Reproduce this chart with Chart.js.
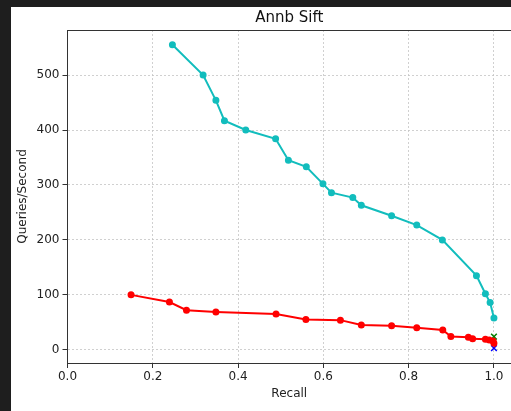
<!DOCTYPE html>
<html>
<head>
<meta charset="utf-8">
<script src="https://cdn.jsdelivr.net/npm/chart.js@4/dist/chart.umd.min.js"></script>
<style>
  html, body { margin: 0; padding: 0; background: #1e1e1e; }
  #wrap { position: absolute; left: 11px; top: 7px; width: 500px; height: 404px; background: #fff; }
  canvas { display: block; }
</style>
</head>
<body>
<div id="wrap"><canvas id="chart" width="500" height="404"></canvas></div>
<script>
// Recall / throughput curves
const cyanRecall = [0.246, 0.318, 0.348, 0.368, 0.418, 0.488, 0.518, 0.560, 0.599, 0.619, 0.669, 0.689, 0.760, 0.819, 0.879, 0.959, 0.980, 0.991, 1.0];
const cyanQps    = [555, 500, 454, 417, 400, 384, 345, 333, 302, 286, 277, 263, 244, 227, 200, 135, 102, 86, 58];

const redRecall = [0.149, 0.239, 0.279, 0.348, 0.489, 0.559, 0.640, 0.689, 0.760, 0.819, 0.880, 0.899, 0.940, 0.950, 0.980, 0.989, 0.998, 1.0];
const redQps    = [100, 87, 72, 69, 65, 55, 54, 45, 44, 40, 36, 24, 23, 20, 19, 18, 16, 12];

// single-point runs at full recall
const greenPoint = [1.0, 24];
const bluePoint  = [1.0, 3];

const xTicks = [0.0, 0.2, 0.4, 0.6, 0.8, 1.0];
const yTicks = [0, 100, 200, 300, 400, 500];

const FONT = "'DejaVu Sans', sans-serif";

function toPoints(xs, ys) {
    return xs.map((x, i) => ({ x: x, y: ys[i] }));
}

// matplotlib-style closed top spine
const topSpine = {
    id: 'topSpine',
    afterDraw(chart) {
        const { ctx, chartArea } = chart;
        ctx.save();
        ctx.strokeStyle = '#333';
        ctx.lineWidth = 1;
        ctx.beginPath();
        ctx.moveTo(chartArea.left, chartArea.top + 0.5);
        ctx.lineTo(chartArea.right, chartArea.top + 0.5);
        ctx.stroke();
        ctx.restore();
    }
};

const axisGrid = {
    color: '#c4c4c4',
    lineWidth: 0.8,
    tickColor: '#333',
    tickWidth: 1,
    tickLength: 5,
    tickBorderDash: []
};

new Chart(document.getElementById('chart'), {
    type: 'scatter',
    data: {
        datasets: [
            {
                data: toPoints(cyanRecall, cyanQps),
                showLine: true,
                borderColor: '#12bdbd',
                backgroundColor: '#12bdbd',
                borderWidth: 2,
                pointRadius: 2.5,
                pointHoverRadius: 2.5,
                tension: 0
            },
            {
                data: toPoints(redRecall, redQps),
                showLine: true,
                borderColor: '#ff0000',
                backgroundColor: '#ff0000',
                borderWidth: 2,
                pointRadius: 2.5,
                pointHoverRadius: 2.5,
                tension: 0
            },
            {
                data: [{ x: greenPoint[0], y: greenPoint[1] }],
                pointStyle: 'crossRot',
                borderColor: '#008000',
                borderWidth: 1.5,
                pointRadius: 4
            },
            {
                data: [{ x: bluePoint[0], y: bluePoint[1] }],
                pointStyle: 'crossRot',
                borderColor: '#0000ff',
                borderWidth: 1.5,
                pointRadius: 4
            }
        ]
    },
    options: {
        responsive: false,
        animation: false,
        layout: { padding: 0, autoPadding: false },
        plugins: {
            legend: { display: false },
            tooltip: { enabled: false },
            title: {
                display: true,
                text: 'Annb Sift',
                fullSize: false,
                color: '#111',
                font: { family: FONT, size: 15, weight: 'normal' },
                padding: { top: 2, bottom: 3 }
            }
        },
        scales: {
            x: {
                type: 'linear',
                min: 0,
                max: 1.04,
                afterBuildTicks: (scale) => { scale.ticks = xTicks.map(v => ({ value: v })); },
                afterFit: (scale) => {
                    scale.height = 48;
                    scale.paddingLeft = 0;
                    scale.paddingRight = 0;
                },
                grid: axisGrid,
                border: { display: true, color: '#333', width: 1, dash: [2, 2] },
                ticks: {
                    color: '#222',
                    padding: 2,
                    maxRotation: 0,
                    font: { family: FONT, size: 12 },
                    callback: (v) => Number(v).toFixed(1)
                },
                title: {
                    display: true,
                    text: 'Recall',
                    color: '#222',
                    font: { family: FONT, size: 12 },
                    padding: { top: 0, bottom: 10 }
                }
            },
            y: {
                type: 'linear',
                min: -24,
                max: 582,
                afterBuildTicks: (scale) => { scale.ticks = yTicks.map(v => ({ value: v })); },
                afterFit: (scale) => { scale.width = 56.5; },
                grid: axisGrid,
                border: { display: true, color: '#333', width: 1, dash: [2, 2] },
                ticks: {
                    color: '#222',
                    padding: 3,
                    font: { family: FONT, size: 12 },
                    callback: (v) => String(v)
                },
                title: {
                    display: true,
                    text: 'Queries/Second',
                    color: '#222',
                    font: { family: FONT, size: 12 },
                    padding: { top: 5, bottom: 0 }
                }
            }
        }
    },
    plugins: [topSpine]
});
</script>
</body>
</html>
